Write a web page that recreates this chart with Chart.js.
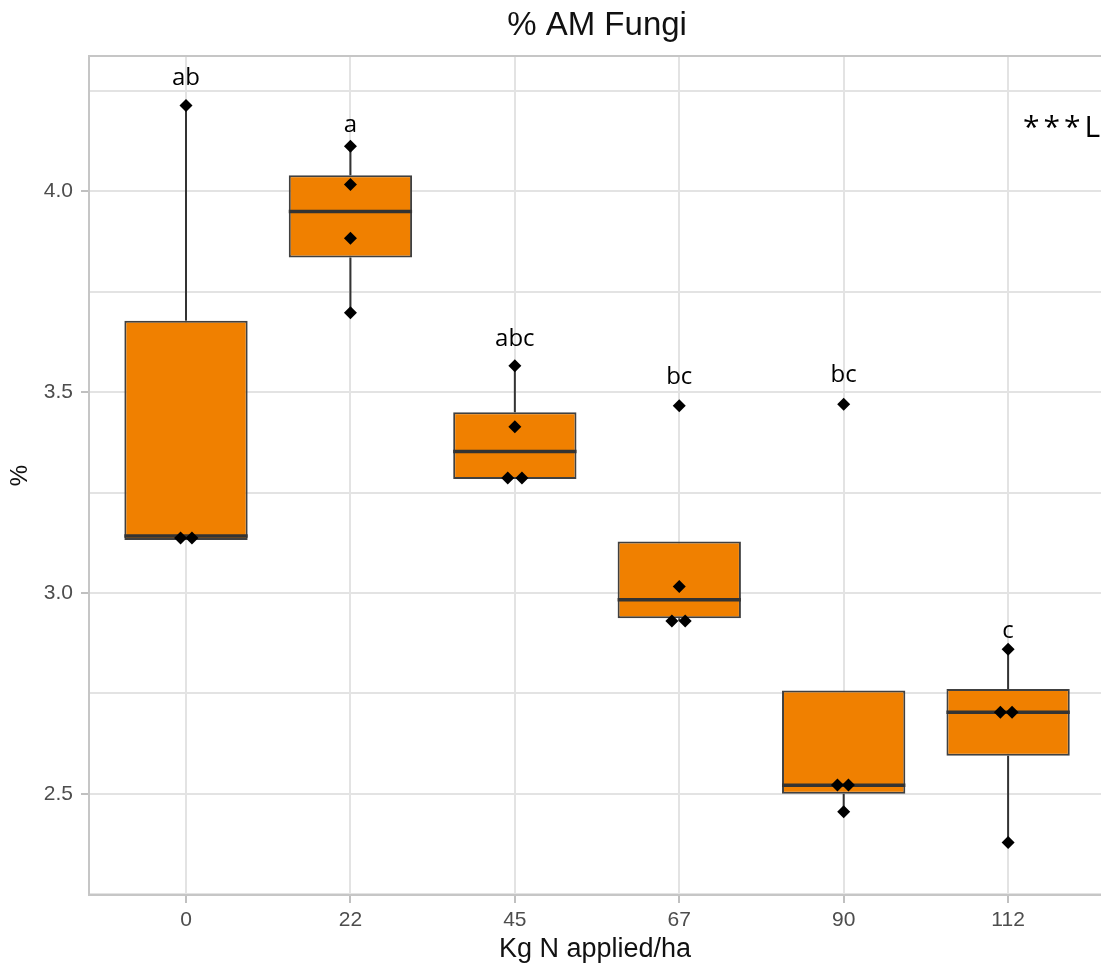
<!DOCTYPE html>
<html lang="en">
<head>
  <meta charset="UTF-8" />
  <title>% AM Fungi</title>
  <script src="https://cdn.jsdelivr.net/npm/chart.js"></script>
  <style>
    html, body { margin: 0; padding: 0; background: #fff; overflow: hidden; }
    .chart-container { width: 1101px; height: 970px; position: relative; }
  </style>
</head>
<body>
  <div class="chart-container">
    <canvas id="fungiChart"></canvas>
  </div>

  <script>
    // N rates (categories)
    const doses = ['0', '22', '45', '67', '90', '112'];

    // box statistics
    const q1      = [3.132, 3.835, 3.284, 2.937, 2.500, 2.595];
    const median  = [3.142, 3.950, 3.352, 2.983, 2.521, 2.703];
    const q3      = [3.678, 4.040, 3.450, 3.128, 2.757, 2.761];
    const whiskLo = [3.132, 3.698, 3.284, 2.930, 2.455, 2.379];
    const whiskHi = [4.214, 4.112, 3.566, 3.128, 2.757, 2.860];

    // individual observations (group index, value, horizontal jitter)
    const ptGroup  = [0, 0, 0,   1, 1, 1, 1,   2, 2, 2, 2,   3, 3, 3, 3,   4, 4, 4, 4,   5, 5, 5, 5];
    const ptValue  = [4.214, 3.137, 3.137,
                      4.112, 4.017, 3.883, 3.698,
                      3.566, 3.414, 3.286, 3.286,
                      3.466, 3.016, 2.930, 2.930,
                      3.470, 2.522, 2.522, 2.455,
                      2.860, 2.703, 2.703, 2.379];
    const ptJitter = [0, -0.033, 0.036,
                      0, 0, 0, 0,
                      0, 0, -0.043, 0.043,
                      0, 0, -0.045, 0.036,
                      0, -0.038, 0.029, 0,
                      0, -0.047, 0.024, 0];

    // significance letters and where their baseline sits
    const letters = ['ab', 'a', 'abc', 'bc', 'bc', 'c'];
    const letterY = [4.264, 4.147, 3.615, 3.521, 3.525, 2.889];
    const trendNote = '***L';
    const trendX = 5.09, trendY = 4.135;

    const isMajor = v => Math.abs(v * 2 - Math.round(v * 2)) < 1e-6;

    const boxData = doses.map((d, i) => ({ x: i, y: [q1[i], q3[i]] }));
    const pointData = ptValue.map((v, k) => ({ x: ptGroup[k] + ptJitter[k], y: v }));

    const boxExtras = {
      id: 'boxExtras',
      beforeDatasetsDraw(chart) {
        const { ctx, scales: { x, y } } = chart;
        ctx.save();
        ctx.strokeStyle = '#333333';
        ctx.lineWidth = 2;
        doses.forEach((d, i) => {
          const px = x.getPixelForValue(i);
          ctx.beginPath();
          ctx.moveTo(px, y.getPixelForValue(q3[i]));
          ctx.lineTo(px, y.getPixelForValue(whiskHi[i]));
          ctx.moveTo(px, y.getPixelForValue(q1[i]));
          ctx.lineTo(px, y.getPixelForValue(whiskLo[i]));
          ctx.stroke();
        });
        ctx.restore();
      },
      afterDatasetDraw(chart, args) {
        if (args.index !== 1) return;
        const { ctx, scales: { y } } = chart;
        const bars = chart.getDatasetMeta(1).data;
        ctx.save();
        ctx.strokeStyle = '#333333';
        ctx.lineWidth = 3.5;
        bars.forEach((bar, i) => {
          const py = y.getPixelForValue(median[i]);
          ctx.beginPath();
          ctx.moveTo(bar.x - bar.width / 2, py);
          ctx.lineTo(bar.x + bar.width / 2, py);
          ctx.stroke();
        });
        ctx.restore();
      },
      afterDraw(chart) {
        const { ctx, chartArea, scales: { x, y } } = chart;
        ctx.save();
        // panel top border
        ctx.strokeStyle = '#c6c6c6';
        ctx.lineWidth = 2;
        ctx.beginPath();
        ctx.moveTo(chartArea.left, chartArea.top);
        ctx.lineTo(chartArea.right, chartArea.top);
        ctx.stroke();

        // title
        ctx.fillStyle = '#111';
        ctx.font = '33px "Liberation Sans", Arial, sans-serif';
        ctx.textAlign = 'center';
        ctx.textBaseline = 'alphabetic';
        ctx.fillText('% AM Fungi', (x.getPixelForValue(-0.6) + x.getPixelForValue(5.6)) / 2, 35);

        // letters
        ctx.fillStyle = '#000';
        ctx.font = '24px "Open Sans", sans-serif';
        letters.forEach((t, i) => {
          ctx.fillText(t, x.getPixelForValue(i), y.getPixelForValue(letterY[i]));
        });

        // trend note
        ctx.textAlign = 'left';
        ctx.font = '30px "Open Sans", sans-serif';
        ctx.letterSpacing = '4px';
        ctx.fillText(trendNote, x.getPixelForValue(trendX), y.getPixelForValue(trendY));
        ctx.restore();
      }
    };

    const tickFont = { family: 'Liberation Sans', size: 21 };

    new Chart(document.getElementById('fungiChart').getContext('2d'), {
      type: 'bar',
      data: {
        datasets: [
          {
            type: 'scatter',
            data: pointData,
            pointStyle: 'rectRot',
            radius: 6.5,
            backgroundColor: '#000',
            borderColor: '#000',
            borderWidth: 0,
            order: 0
          },
          {
            type: 'bar',
            data: boxData,
            backgroundColor: '#f08000',
            borderColor: '#404040',
            borderWidth: 2,
            borderSkipped: false,
            categoryPercentage: 1,
            barPercentage: 0.75,
            order: 1
          }
        ]
      },
      options: {
        responsive: true,
        maintainAspectRatio: false,
        animation: false,
        layout: { autoPadding: false, padding: { top: 56, right: 0, left: 0, bottom: 0 } },
        plugins: { legend: { display: false }, tooltip: { enabled: false }, title: { display: false } },
        scales: {
          x: {
            type: 'linear',
            offset: false,
            min: -0.59,
            max: 5.565,
            afterFit: s => { s.height = 75; s.paddingRight = 0; },
            ticks: {
              stepSize: 1,
              includeBounds: false,
              autoSkip: false,
              maxRotation: 0,
              padding: 5,
              color: '#4d4d4d',
              font: tickFont,
              callback: v => doses[Math.round(v)] ?? ''
            },
            grid: { offset: false, color: '#e3e3e3', lineWidth: 2, tickLength: 8, tickColor: '#c0c0c0', tickWidth: 2 },
            border: { color: '#c6c6c6', width: 2 },
            title: {
              display: true,
              text: 'Kg N applied/ha',
              color: '#111',
              font: { family: 'Liberation Sans', size: 27 },
              padding: { top: 0, bottom: 4 }
            }
          },
          y: {
            min: 2.248,
            max: 4.337,
            afterFit: s => { s.width = 89; },
            ticks: {
              stepSize: 0.25,
              includeBounds: false,
              autoSkip: false,
              padding: 8,
              color: '#4d4d4d',
              font: tickFont,
              callback: v => isMajor(v) ? v.toFixed(1) : ''
            },
            grid: {
              color: '#e3e3e3',
              lineWidth: 2,
              tickLength: 8,
              tickWidth: 2,
              tickColor: c => (c.tick && isMajor(c.tick.value)) ? '#c0c0c0' : 'rgba(0,0,0,0)'
            },
            border: { color: '#c6c6c6', width: 2 },
            title: {
              display: true,
              text: '%',
              color: '#111',
              font: { family: 'Liberation Sans', size: 24 },
              padding: { top: 6, bottom: 0 }
            }
          }
        }
      },
      plugins: [boxExtras]
    });
  </script>
</body>
</html>
